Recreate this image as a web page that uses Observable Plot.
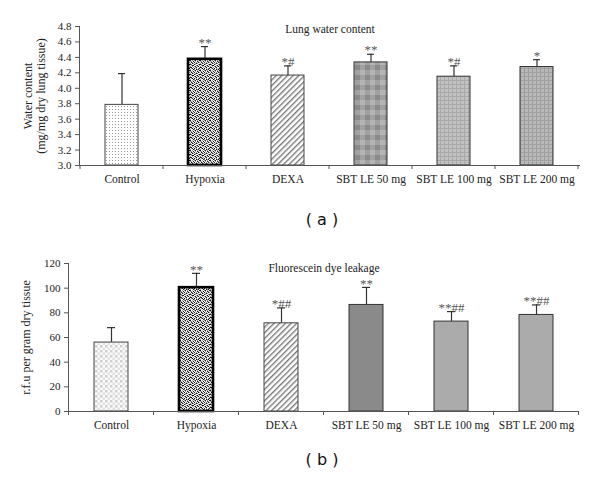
<!DOCTYPE html>
<html><head><meta charset="utf-8">
<script src="https://cdn.jsdelivr.net/npm/d3@7"></script>
<script src="https://cdn.jsdelivr.net/npm/@observablehq/plot@0.6"></script>
<style>
body{margin:0;background:#fff}
#wrap{position:relative;width:600px;height:482px;overflow:hidden}
.panel{position:absolute;left:0}
.lab{position:absolute;left:272px;width:100px;text-align:center;font-family:"DejaVu Sans",sans-serif;font-size:16px;color:#111;line-height:20px}
</style>
</head><body>
<svg width="0" height="0" style="position:absolute">
  <defs>
    <pattern id="ctrlA" patternUnits="userSpaceOnUse" width="3" height="3">
      <rect width="3" height="3" fill="#fff"/><rect x="1" y="1" width="1" height="1" fill="#9a9a9a"/>
    </pattern>
    <pattern id="ctrlB" patternUnits="userSpaceOnUse" width="5" height="5">
      <rect width="5" height="5" fill="#fbfbfb"/><rect x="0" y="0" width="2.5" height="2.5" fill="#cfcfcf"/><rect x="2.5" y="2.5" width="2.5" height="2.5" fill="#e2e2e2"/>
    </pattern>
    <pattern id="stipple" patternUnits="userSpaceOnUse" width="10" height="10"></pattern>
    <pattern id="hatch" patternUnits="userSpaceOnUse" width="4" height="4" patternTransform="rotate(45)">
      <rect width="4" height="4" fill="#fff"/><rect x="0" y="0" width="1.4" height="4" fill="#7a7a7a"/>
    </pattern>
    <pattern id="plaid" patternUnits="userSpaceOnUse" width="10" height="10">
      <rect width="10" height="10" fill="#8a8a8a"/>
      <rect width="5" height="10" fill="#fff" opacity="0.2"/>
      <rect width="10" height="5" fill="#fff" opacity="0.2"/>
    </pattern>
    <pattern id="grid1" patternUnits="userSpaceOnUse" width="4" height="4">
      <rect width="4" height="4" fill="#c2c2c2"/><rect width="1" height="4" fill="#a9a9a9"/><rect width="4" height="1" fill="#a9a9a9"/>
    </pattern>
    <pattern id="grid2" patternUnits="userSpaceOnUse" width="4" height="4">
      <rect width="4" height="4" fill="#b8b8b8"/><rect width="1" height="4" fill="#9c9c9c"/><rect width="4" height="1" fill="#a2a2a2"/>
    </pattern>
  </defs>
</svg>
<div id="wrap"></div>
<script>
// ---- data ----
const groups = ["Control", "Hypoxia", "DEXA", "SBT LE 50 mg", "SBT LE 100 mg", "SBT LE 200 mg"];
const waterMean = [3.785, 4.375, 4.165, 4.335, 4.15, 4.275];
const waterErr  = [0.405, 0.165, 0.125, 0.105, 0.14, 0.095];
const waterSig  = ["", "**", "*#", "**", "*#", "*"];
const waterTicks = [3.0, 3.2, 3.4, 3.6, 3.8, 4.0, 4.2, 4.4, 4.6, 4.8];
const dyeMean = [55.9, 100.4, 71.5, 86.4, 72.9, 78.3];
const dyeErr  = [12.1, 11.6, 12.5, 14.2, 8.1, 8.1];
const dyeSig  = ["", "**", "*##", "**", "**##", "**##"];
const dyeTicks = [0, 20, 40, 60, 80, 100, 120];

// ---- styles (kept apart from data) ----
const fillsA = ["url(#ctrlA)", "url(#stipple)", "url(#hatch)", "url(#plaid)", "url(#grid1)", "url(#grid2)"];
const fillsB = ["url(#ctrlB)", "url(#stipple)", "url(#hatch)", "#8a8a8a", "#ababab", "#ababab"];
const strokeW = [1, 2.6, 1, 1, 1, 1];
const strokeC = ["#444", "#000", "#444", "#333", "#333", "#333"];

// stipple texture (0 white, 1 grey, 2 black)
const bitmap = [
  "2010120102",
  "1102010210",
  "0210201021",
  "1021012100",
  "2100210012",
  "0122001201",
  "1010120120",
  "2201012001",
  "0120201012",
  "1002102120"
];
const shade = ["#ffffff", "#9a9a9a", "#151515"];
const st = d3.select("#stipple");
bitmap.forEach((row, r) => [...row].forEach((c, k) => {
  st.append("rect").attr("x", k).attr("y", r).attr("width", 1).attr("height", 1).attr("fill", shade[+c]);
}));

function axisLines(index, scales, values, dims) {
  const x = scales.x;
  const left = dims.marginLeft, right = dims.width - dims.marginRight;
  const top = dims.marginTop, bottom = dims.height - dims.marginBottom;
  const step = x(groups[1]) - x(groups[0]);
  const bw = x.bandwidth ? x.bandwidth() : step * 0.4;
  const g = d3.create("svg:g").attr("stroke", "#555").attr("fill", "none").attr("stroke-width", 1);
  g.append("line").attr("x1", left + 0.5).attr("x2", left + 0.5).attr("y1", top).attr("y2", bottom);
  g.append("line").attr("x1", left).attr("x2", right).attr("y1", bottom + 0.5).attr("y2", bottom + 0.5);
  const bounds = groups.map(k => x(k) + bw / 2 - step / 2);
  bounds.push(x(groups[groups.length - 1]) + bw / 2 + step / 2);
  for (const b of bounds) {
    g.append("line").attr("x1", b).attr("x2", b).attr("y1", bottom).attr("y2", bottom + 4);
  }
  return g.node();
}

function panel({means, errs, sigs, ticks, fmt, domain, fills, title, titleDy, ylabel, ylabelDx, height, mt, mb, ml, mr}) {
  const data = groups.map((g, i) => ({
    group: g, mean: means[i], top: means[i] + errs[i], sig: sigs[i],
    fill: fills[i], sw: strokeW[i], sc: strokeC[i]
  }));
  return Plot.plot({
    width: 600, height, marginTop: mt, marginBottom: mb, marginLeft: ml, marginRight: mr,
    x: {domain: groups, paddingInner: 0.6, paddingOuter: 0.3, axis: null},
    y: {domain, axis: null},
    color: {type: "identity"},
    style: {fontFamily: "'Liberation Serif', serif", fontSize: "11px", color: "#222", background: "transparent", overflow: "visible"},
    marks: [
      Plot.ruleX(data, {x: "group", y1: "mean", y2: "top", stroke: "#333", strokeWidth: 1.2}),
      Plot.tickY(data, {x: "group", y: "top", stroke: "#333", strokeWidth: 1.2, insetLeft: 13, insetRight: 13}),
      Plot.barY(data, {x: "group", y1: domain[0], y2: "mean", fill: "fill", stroke: "sc", strokeWidth: "sw"}),
      Plot.text(data, {x: "group", y: "top", text: "sig", dy: -4, fontSize: 13, fill: "#555", letterSpacing: "1.5px"}),
      Plot.axisY({ticks, tickFormat: fmt, tickSize: 4, tickPadding: 4, stroke: "#555", label: null, fontSize: 11, fill: "#222"}),
      Plot.axisX({tickSize: 0, tickPadding: 9, label: null, fontSize: 11.5, fill: "#222"}),
      Plot.text([title], {frameAnchor: "top", dy: titleDy, fontSize: 11.5, fill: "#222"}),
      Plot.text([ylabel], {frameAnchor: "left", textAnchor: "middle", rotate: -90, dx: ylabelDx, fontSize: 12, fill: "#222", lineHeight: 1.1}),
      axisLines
    ]
  });
}

const wrap = document.getElementById("wrap");

const pa = panel({
  means: waterMean, errs: waterErr, sigs: waterSig, ticks: waterTicks, fmt: d => d.toFixed(1),
  domain: [3.0, 4.8], fills: fillsA, title: "Lung water content", titleDy: -2,
  ylabel: "Water content\n(mg/mg dry lung tissue)", ylabelDx: -45,
  height: 190, mt: 26, mb: 25, ml: 79, mr: 20
});
pa.classList.add("panel"); pa.style.top = "0px";
wrap.appendChild(pa);

const la = document.createElement("div");
la.className = "lab"; la.style.top = "210px"; la.textContent = "( a )";
wrap.appendChild(la);

const pb = panel({
  means: dyeMean, errs: dyeErr, sigs: dyeSig, ticks: dyeTicks, fmt: d => String(d),
  domain: [0, 120], fills: fillsB, title: "Fluorescein dye leakage", titleDy: 0,
  ylabel: "r.f.u per gram dry tissue", ylabelDx: -43,
  height: 195, mt: 23, mb: 24, ml: 68, mr: 21
});
pb.classList.add("panel"); pb.style.top = "240px";
wrap.appendChild(pb);

const lb = document.createElement("div");
lb.className = "lab"; lb.style.top = "450px"; lb.textContent = "( b )";
wrap.appendChild(lb);
</script>
</body></html>
